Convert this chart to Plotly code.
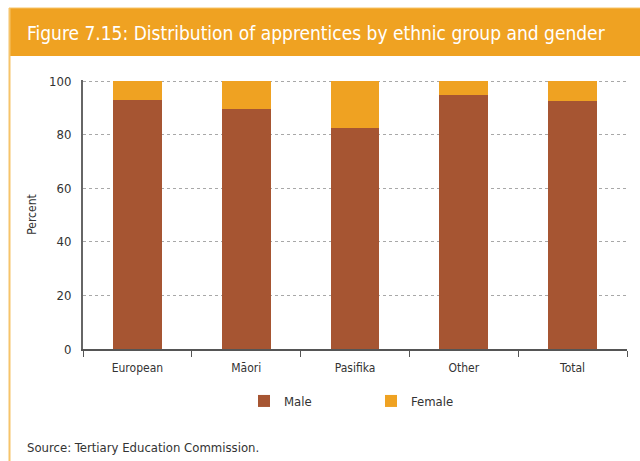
import plotly.graph_objects as go

# Share of apprentices (percent) by ethnic group
groups = ["European", "Māori", "Pasifika", "Other", "Total"]
male = [92.9, 89.6, 82.5, 94.8, 92.6]
female = [round(100 - v, 1) for v in male]

MALE_COLOR = "#A65532"
FEMALE_COLOR = "#EFA222"
FONT = "DejaVu Sans Condensed"

fig = go.Figure()
fig.add_trace(go.Bar(x=groups, y=male, name="Male", marker_color=MALE_COLOR,
                     marker_line_width=0, width=0.45))
fig.add_trace(go.Bar(x=groups, y=female, name="Female", marker_color=FEMALE_COLOR,
                     marker_line_width=0, width=0.45))

W, H = 640, 461
ML, MR, MT, MB = 83, 13, 80, 112
PW, PH = W - ML - MR, H - MT - MB


def px_x(x):
    return (x - ML) / PW


def px_y(y):
    return (H - MB - y) / PH


fig.update_layout(
    width=W, height=H,
    barmode="stack",
    paper_bgcolor="white", plot_bgcolor="white",
    margin=dict(l=ML, r=MR, t=MT, b=MB, pad=0),
    font=dict(family=FONT, size=12, color="#333333"),
    showlegend=True,
    legend=dict(orientation="h", x=px_x(244), xanchor="left", y=px_y(401), yanchor="middle",
                font=dict(size=13, color="#333333"),
                entrywidth=82, entrywidthmode="pixels",
                traceorder="normal", itemclick=False),
    xaxis=dict(
        showline=True, linecolor="#555555", linewidth=2,
        ticks="outside", tickson="boundaries", ticklen=6, tickcolor="#555555",
        tickfont=dict(size=12, color="#333333"), ticklabelstandoff=7,
        showgrid=False,
    ),
    yaxis=dict(
        range=[0, 100.4], tickvals=[0, 20, 40, 60, 80, 100],
        showline=True, linecolor="#666666", linewidth=2,
        ticks="", tickfont=dict(size=13, color="#333333"), ticklabelstandoff=7,
        showgrid=True, gridcolor="#a8a8a8", griddash="3px,3px", gridwidth=1,
        zeroline=False,
        title=dict(text="Percent", font=dict(size=12, color="#333333"), standoff=10),
    ),
)

# Orange header banner and page frame
fig.add_shape(type="rect", xref="paper", yref="paper",
              x0=px_x(9), x1=px_x(W), y0=px_y(56), y1=px_y(8),
              fillcolor=FEMALE_COLOR, line_width=0, layer="below")
fig.add_shape(type="line", xref="paper", yref="paper",
              x0=px_x(9.5), x1=px_x(9.5), y0=px_y(8), y1=px_y(H),
              line=dict(color="#F6C46A", width=2), layer="below")
fig.add_shape(type="line", xref="paper", yref="paper",
              x0=px_x(9), x1=px_x(W), y0=px_y(8), y1=px_y(8),
              line=dict(color="#F6C46A", width=1), layer="below")

fig.add_annotation(text="Figure 7.15: Distribution of apprentices by ethnic group and gender",
                   xref="paper", yref="paper", showarrow=False,
                   x=px_x(25), xanchor="left", y=px_y(33), yanchor="middle",
                   font=dict(family=FONT, size=19, color="white"))
fig.add_annotation(text="Source: Tertiary Education Commission.",
                   xref="paper", yref="paper", showarrow=False,
                   x=px_x(25), xanchor="left", y=px_y(447), yanchor="middle",
                   font=dict(family=FONT, size=13, color="#333333"))

fig.write_html("out.html")
